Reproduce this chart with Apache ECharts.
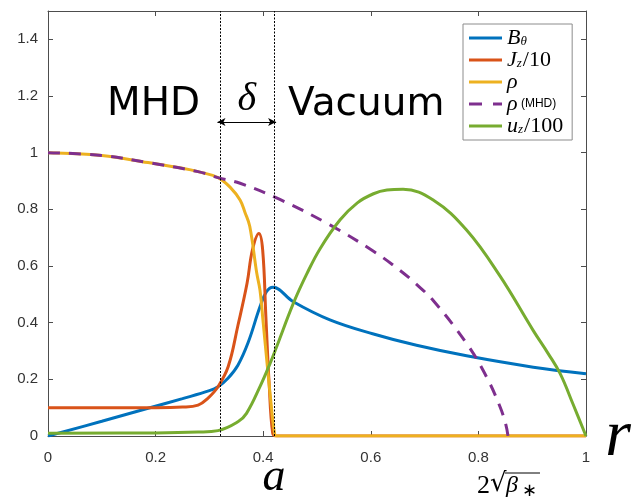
<!DOCTYPE html>
<html><head><meta charset="utf-8">
<script src="https://cdn.jsdelivr.net/npm/echarts@6/dist/echarts.min.js"></script>
<style>html,body{margin:0;padding:0;background:#fff}#c{width:642px;height:501px}</style>
</head><body><div id="c"></div>
<script>
// ---- data ----
const xTicks = [0, 0.2, 0.4, 0.6, 0.8, 1];
const yTicks = [0, 0.2, 0.4, 0.6, 0.8, 1, 1.2, 1.4];

const rB = [0, 0.1, 0.186, 0.25, 0.3, 0.316, 0.335, 0.353, 0.372, 0.394, 0.406, 0.418, 0.456, 0.524, 0.605, 0.685, 0.778, 0.902, 1];
const vB = [0, 0.052, 0.098, 0.132, 0.16, 0.174, 0.205, 0.25, 0.33, 0.456, 0.509, 0.525, 0.474, 0.41, 0.36, 0.32, 0.283, 0.243, 0.22];

const rJ = [0, 0.2, 0.25, 0.279, 0.297, 0.316, 0.335, 0.353, 0.370, 0.380, 0.392, 0.399, 0.405, 0.411, 0.4176, 0.424, 1];
const vJ = [0.1, 0.1, 0.102, 0.109, 0.133, 0.174, 0.245, 0.39, 0.539, 0.657, 0.715, 0.657, 0.42, 0.187, 0.01, 0, 0];

const rRho = [0, 0.1, 0.186, 0.25, 0.279, 0.316, 0.34, 0.357, 0.366, 0.375, 0.388, 0.394, 0.400, 0.406, 0.413, 0.421, 0.425, 1];
const vRho = [1, 0.99, 0.965, 0.945, 0.933, 0.912, 0.875, 0.833, 0.79, 0.74, 0.575, 0.515, 0.40, 0.28, 0.145, 0.01, 0, 0];

const rRhoMHD = [0, 0.1, 0.186, 0.279, 0.316, 0.357, 0.431, 0.524, 0.605, 0.654, 0.685, 0.716, 0.778, 0.815, 0.840, 0.851, 0.855];
const vRhoMHD = [1, 0.99, 0.965, 0.933, 0.912, 0.892, 0.835, 0.745, 0.652, 0.585, 0.535, 0.478, 0.327, 0.209, 0.104, 0.04, 0];

const rU = [0, 0.2, 0.279, 0.316, 0.353, 0.369, 0.394, 0.413, 0.425, 0.456, 0.481, 0.506, 0.543, 0.575, 0.605, 0.63, 0.66, 0.716, 0.778, 0.840, 0.902, 0.93, 0.952, 0.976, 1];
const vU = [0.01, 0.011, 0.014, 0.019, 0.05, 0.08, 0.174, 0.257, 0.315, 0.468, 0.572, 0.662, 0.763, 0.823, 0.855, 0.868, 0.871, 0.833, 0.727, 0.565, 0.372, 0.29, 0.22, 0.112, 0];

const boundaries = [0.315, 0.424];   // edges of the delta layer (r)
const arrowLevel = 1.108;            // y value of the delta arrow
const rA = 0.424;                    // position of label a
const rBeta = 0.855;                 // position of label 2 sqrt(beta*)

// ---- chart ----
const zip = (xs, ys) => xs.map((x, i) => [x, ys[i]]);
const colors = ['#0072BD', '#D95319', '#EDB120', '#7E2F8E', '#77AC30'];
const legendLabels = {
  'Bθ': '{m|B}{s|θ}',
  'Jz/10': '{m|J}{s|z}{n|/10}',
  'ρ': '{m|ρ}',
  'ρ (MHD)': '{m|ρ}{t| (MHD)}',
  'uz/100': '{m|u}{s|z}{n|/100}'
};
const solidIcon = 'path://M0,0h33v3h-33z';
const dashIcon = 'path://M0,0h13v3h-13z M24,0h9v3h-9z';
const axisColor = '#4d4d4d';
const labelStyle = { color: '#333', fontFamily: 'Liberation Sans', fontSize: 15 };

function lineSeries(name, data, color, type) {
  return {
    name, type: 'line', data, smooth: 0.4,
    showSymbol: false, symbol: 'none', animation: false,
    lineStyle: { color, width: 3, type: type || 'solid' },
    itemStyle: { color }, z: 3
  };
}

const chart = echarts.init(document.getElementById('c'), null, { renderer: 'canvas' });
const option = {
  animation: false,
  backgroundColor: '#fff',
  grid: { left: 48, right: 56, top: 11, bottom: 65, show: false },
  xAxis: [
    { type: 'value', min: 0, max: 1, interval: 0.2, position: 'bottom',
      axisLine: { lineStyle: { color: axisColor, width: 1 } },
      axisTick: { inside: true, length: 5, lineStyle: { color: axisColor } },
      axisLabel: Object.assign({ margin: 14, customValues: xTicks }, labelStyle),
      splitLine: { show: false } },
    { type: 'value', min: 0, max: 1, interval: 0.2, position: 'top',
      axisLine: { onZero: false, lineStyle: { color: axisColor, width: 1 } },
      axisTick: { inside: true, length: 5, lineStyle: { color: axisColor } },
      axisLabel: { show: false }, splitLine: { show: false } }
  ],
  yAxis: [
    { type: 'value', min: 0, max: 1.5, position: 'left',
      axisLine: { show: true, onZero: false, lineStyle: { color: axisColor, width: 1 } },
      axisTick: { show: true, inside: true, length: 5, customValues: yTicks, lineStyle: { color: axisColor } },
      axisLabel: Object.assign({ margin: 10, customValues: yTicks }, labelStyle),
      splitLine: { show: false } },
    { type: 'value', min: 0, max: 1.5, position: 'right',
      axisLine: { show: true, onZero: false, lineStyle: { color: axisColor, width: 1 } },
      axisTick: { show: true, inside: true, length: 5, customValues: yTicks, lineStyle: { color: axisColor } },
      axisLabel: { show: false }, splitLine: { show: false } }
  ],
  legend: {
    left: 463, top: 24, orient: 'vertical',
    itemWidth: 33, itemHeight: 3, itemGap: 0,
    padding: [3, 9, 3, 6],
    backgroundColor: '#fff', borderColor: '#8c8c8c', borderWidth: 1,
    itemStyle: { borderWidth: 0 },
    data: [
      { name: 'Bθ', icon: solidIcon },
      { name: 'Jz/10', icon: solidIcon },
      { name: 'ρ', icon: solidIcon },
      { name: 'ρ (MHD)', icon: dashIcon },
      { name: 'uz/100', icon: solidIcon }
    ],
    formatter: n => legendLabels[n],
    textStyle: {
      color: '#000',
      rich: {
        m: { fontFamily: 'Liberation Serif', fontStyle: 'italic', fontSize: 22, lineHeight: 21 },
        n: { fontFamily: 'Liberation Serif', fontSize: 22, lineHeight: 21 },
        s: { fontFamily: 'Liberation Serif', fontStyle: 'italic', fontSize: 13, lineHeight: 13, padding: [8, 1, 0, 0] },
        t: { fontFamily: 'Liberation Sans', fontSize: 12, lineHeight: 21 }
      }
    }
  },
  series: [
    lineSeries('Bθ', zip(rB, vB), colors[0]),
    lineSeries('Jz/10', zip(rJ, vJ), colors[1]),
    lineSeries('ρ', zip(rRho, vRho), colors[2]),
    lineSeries('ρ (MHD)', zip(rRhoMHD, vRhoMHD), colors[3], [12, 9]),
    lineSeries('uz/100', zip(rU, vU), colors[4]),
    { type: 'line', data: [], silent: true, z: 2,
      markLine: { silent: true, symbol: 'none', animation: false, label: { show: false },
        lineStyle: { color: '#000', type: [2, 1.5], width: 1 },
        data: boundaries.map(b => ({ xAxis: b })) } },
    { type: 'line', data: [], silent: true, z: 4,
      markLine: { silent: true, animation: false, label: { show: false },
        symbol: ['arrow', 'arrow'], symbolSize: [6, 8],
        lineStyle: { color: '#000', type: 'solid', width: 1 },
        data: [[{ coord: [boundaries[0], arrowLevel] }, { coord: [boundaries[1], arrowLevel] }]] } }
  ]
};
chart.setOption(option);

const pxA = chart.convertToPixel({ xAxisIndex: 0 }, rA);
const pxB = chart.convertToPixel({ xAxisIndex: 0 }, rBeta);
const pxDelta = chart.convertToPixel({ xAxisIndex: 0 }, (boundaries[0] + boundaries[1]) / 2);
chart.setOption({
  graphic: [
    { type: 'text', left: 107, top: 85, style: { text: 'MHD', font: '39px "DejaVu Sans"', fill: '#000' } },
    { type: 'text', left: 288, top: 85, style: { text: 'Vacuum', font: '39px "DejaVu Sans"', fill: '#000' } },
    { type: 'text', x: pxDelta, y: 99, style: { text: 'δ', font: 'italic 40px "Liberation Serif"', fill: '#000', align: 'center', verticalAlign: 'middle' } },
    { type: 'text', x: pxA - 2, y: 478, style: { text: 'a', font: 'italic 46px "Liberation Serif"', fill: '#000', align: 'center', verticalAlign: 'middle' } },
    { type: 'text', x: 618, y: 438, style: { text: 'r', font: 'italic 66px "Liberation Serif"', fill: '#000', align: 'center', verticalAlign: 'middle' } },
    { type: 'group', x: pxB - 31, y: 472, children: [
      { type: 'text', x: 0, y: 1, style: { text: '2', font: '26px "Liberation Serif"', fill: '#000' } },
      { type: 'text', x: 13, y: -1, style: { text: '√', font: '26px "DejaVu Serif"', fill: '#000' } },
      { type: 'line', shape: { x1: 28, y1: 1, x2: 63, y2: 1 }, style: { stroke: '#000', lineWidth: 1 } },
      { type: 'text', x: 29, y: 2, style: { text: 'β', font: 'italic 24px "Liberation Serif"', fill: '#000' } },
      { type: 'text', x: 45, y: 10, style: { text: '∗', font: '18px "Liberation Serif"', fill: '#000' } }
    ] }
  ]
});
</script></body></html>
